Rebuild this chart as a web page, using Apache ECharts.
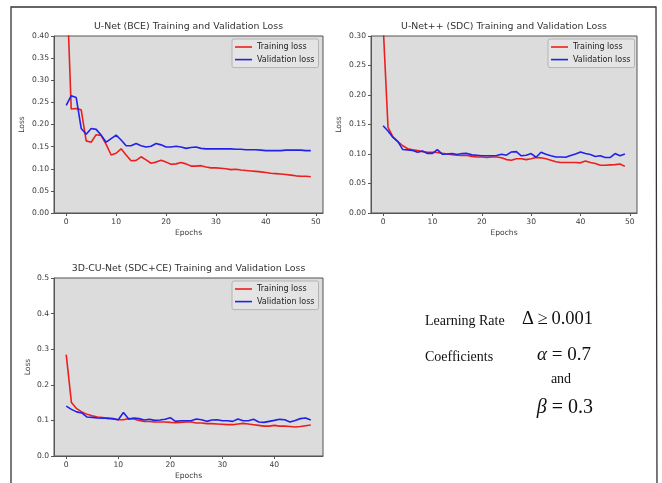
<!DOCTYPE html>
<html>
<head>
<meta charset="utf-8">
<title>Training and Validation Loss</title>
<script src="https://cdn.jsdelivr.net/npm/echarts@6/dist/echarts.min.js"></script>
<style>
  html, body { margin: 0; padding: 0; background: #fff; }
  #chart { width: 662px; height: 483px; }
</style>
</head>
<body>
<div id="chart"></div>
<script>
// U-Net (BCE), epochs 0..49
const unetTrain = [0.55, 0.235, 0.236, 0.233, 0.163, 0.160, 0.177, 0.175, 0.155, 0.131,
  0.135, 0.145, 0.131, 0.118, 0.119, 0.127, 0.120, 0.1125, 0.115, 0.119,
  0.115, 0.110, 0.111, 0.114, 0.111, 0.106, 0.106, 0.107, 0.104, 0.102,
  0.102, 0.101, 0.100, 0.098, 0.099, 0.097, 0.096, 0.095, 0.094, 0.093,
  0.0915, 0.090, 0.089, 0.088, 0.087, 0.0855, 0.084, 0.083, 0.083, 0.082]
const unetVal = [0.243, 0.265, 0.261, 0.191, 0.178, 0.191, 0.189, 0.176, 0.160, 0.168,
  0.176, 0.165, 0.152, 0.152, 0.157, 0.152, 0.149, 0.151, 0.157, 0.154,
  0.149, 0.149, 0.151, 0.149, 0.146, 0.148, 0.149, 0.146, 0.145, 0.145,
  0.145, 0.145, 0.145, 0.145, 0.144, 0.144, 0.143, 0.143, 0.143, 0.142,
  0.141, 0.141, 0.141, 0.141, 0.142, 0.142, 0.142, 0.142, 0.141, 0.141]

// U-Net++ (SDC), epochs 0..49
const ppTrain = [0.32, 0.145, 0.129, 0.121, 0.114, 0.109, 0.107, 0.106, 0.104, 0.103,
  0.103, 0.1025, 0.101, 0.100, 0.099, 0.098, 0.0975, 0.0975, 0.096, 0.095,
  0.095, 0.094, 0.095, 0.095, 0.0935, 0.0905, 0.0895, 0.092, 0.092, 0.0905,
  0.092, 0.094, 0.0935, 0.092, 0.0895, 0.087, 0.0855, 0.0855, 0.0855, 0.0855,
  0.085, 0.088, 0.0855, 0.084, 0.081, 0.081, 0.0815, 0.082, 0.083, 0.079]
const ppVal = [0.148, 0.139, 0.128, 0.121, 0.1075, 0.107, 0.106, 0.103, 0.105, 0.101,
  0.101, 0.1075, 0.0995, 0.100, 0.1007, 0.099, 0.1007, 0.101, 0.0985, 0.098,
  0.097, 0.097, 0.097, 0.0975, 0.0995, 0.098, 0.1035, 0.104, 0.097, 0.098,
  0.1007, 0.0945, 0.103, 0.0995, 0.097, 0.095, 0.095, 0.0945, 0.0975, 0.100,
  0.1035, 0.1007, 0.099, 0.0957, 0.097, 0.094, 0.094, 0.1007, 0.097, 0.100]

// 3D-CU-Net (SDC+CE), epochs 0..47
const cuTrain = [0.285, 0.150, 0.133, 0.124, 0.117, 0.113, 0.1095, 0.108, 0.105, 0.104,
  0.102, 0.102, 0.105, 0.104, 0.100, 0.097, 0.097, 0.0955, 0.0955, 0.0955,
  0.0945, 0.0936, 0.0945, 0.0955, 0.0955, 0.0927, 0.0927, 0.091, 0.091, 0.090,
  0.089, 0.088, 0.088, 0.090, 0.0917, 0.090, 0.088, 0.086, 0.084, 0.084,
  0.086, 0.084, 0.084, 0.083, 0.0815, 0.083, 0.085, 0.087]
const cuVal = [0.140, 0.131, 0.124, 0.121, 0.1095, 0.1086, 0.1067, 0.106, 0.1067, 0.105,
  0.102, 0.122, 0.104, 0.1067, 0.105, 0.101, 0.103, 0.100, 0.101, 0.103,
  0.1077, 0.0973, 0.099, 0.099, 0.099, 0.104, 0.102, 0.0973, 0.101, 0.102,
  0.099, 0.099, 0.0973, 0.104, 0.099, 0.099, 0.103, 0.0955, 0.0945, 0.0973,
  0.100, 0.103, 0.102, 0.0955, 0.100, 0.105, 0.1067, 0.101]

const epochTicksA = [0, 10, 20, 30, 40, 50]
const epochTicksB = [0, 10, 20, 30, 40]
const titles = [
  'U-Net (BCE) Training and Validation Loss',
  'U-Net++ (SDC) Training and Validation Loss',
  '3D-CU-Net (SDC+CE) Training and Validation Loss'
]
const seriesNames = ['Training loss', 'Validation loss']

const RED = '#ec1f1f'
const BLUE = '#2121ea'
const SANS = 'DejaVu Sans'
const SERIF = 'Liberation Serif'

// pair each value with its epoch index
const toPoints = arr => arr.map((v, i) => [i, v])

const panels = [
  { grid: { left: 54, top: 36, width: 269, height: 177 }, xMin: -2.45, xMax: 51.45, xTicks: epochTicksA,
    yMax: 0.4, yStep: 0.05, digits: 2, nameGap: 28, legend: { left: 232, top: 39 },
    train: unetTrain, val: unetVal, title: titles[0] },
  { grid: { left: 371, top: 36, width: 266, height: 177 }, xMin: -2.45, xMax: 51.45, xTicks: epochTicksA,
    yMax: 0.3, yStep: 0.05, digits: 2, nameGap: 28, legend: { left: 548, top: 39 },
    train: ppTrain, val: ppVal, title: titles[1] },
  { grid: { left: 54, top: 278, width: 269, height: 178 }, xMin: -2.35, xMax: 49.35, xTicks: epochTicksB,
    yMax: 0.5, yStep: 0.1, digits: 1, nameGap: 22, legend: { left: 232, top: 281 },
    train: cuTrain, val: cuVal, title: titles[2] }
]

const tickLabel = { fontFamily: SANS, fontSize: 7.6, color: '#3a3a3a' }

const option = {
  animation: false,
  backgroundColor: '#fff',
  grid: panels.map(p => ({
    ...p.grid,
    show: true,
    backgroundColor: '#dcdcdc',
    borderColor: '#555',
    borderWidth: 1
  })),
  xAxis: panels.map((p, i) => ({
    type: 'value',
    gridIndex: i,
    min: p.xMin,
    max: p.xMax,
    name: 'Epochs',
    nameLocation: 'middle',
    nameGap: 16,
    nameTextStyle: { fontFamily: SANS, fontSize: 7.6, color: '#3a3a3a' },
    axisLine: { show: true, onZero: false, lineStyle: { color: '#555', width: 1 } },
    axisTick: { show: true, length: 3, customValues: p.xTicks, lineStyle: { color: '#555' } },
    axisLabel: { ...tickLabel, margin: 5, customValues: p.xTicks },
    splitLine: { show: false }
  })),
  yAxis: panels.map((p, i) => ({
    type: 'value',
    gridIndex: i,
    min: 0,
    max: p.yMax,
    interval: p.yStep,
    name: 'Loss',
    nameLocation: 'middle',
    nameGap: p.nameGap,
    nameTextStyle: { fontFamily: SANS, fontSize: 7.6, color: '#3a3a3a' },
    axisLine: { show: true, onZero: false, lineStyle: { color: '#555', width: 1 } },
    axisTick: { show: true, length: 3, lineStyle: { color: '#555' } },
    axisLabel: { ...tickLabel, margin: 5, formatter: v => v.toFixed(p.digits) },
    splitLine: { show: false }
  })),
  legend: panels.map(p => ({
    left: p.legend.left,
    top: p.legend.top,
    orient: 'vertical',
    data: seriesNames,
    icon: 'rect',
    itemWidth: 17,
    itemHeight: 1.6,
    itemGap: 2.6,
    padding: [3, 4, 3, 3],
    backgroundColor: '#e4e4e4',
    borderColor: '#b4b4b4',
    borderWidth: 1,
    borderRadius: 2,
    selectedMode: false,
    textStyle: { fontFamily: SANS, fontSize: 8, lineHeight: 10, color: '#222' }
  })),
  series: panels.flatMap((p, i) => [
    {
      name: seriesNames[0], type: 'line', xAxisIndex: i, yAxisIndex: i,
      data: toPoints(p.train), showSymbol: false, clip: true,
      color: RED, lineStyle: { color: RED, width: 1.6 }
    },
    {
      name: seriesNames[1], type: 'line', xAxisIndex: i, yAxisIndex: i,
      data: toPoints(p.val), showSymbol: false, clip: true,
      color: BLUE, lineStyle: { color: BLUE, width: 1.6 }
    }
  ]),
  graphic: [
    // outer frame of the figure (open at the bottom)
    { type: 'polyline', silent: true,
      shape: { points: [[11, 490], [11, 7], [656, 7], [657, 490]] },
      style: { stroke: '#333', lineWidth: 1.3, fill: null } },
    ...panels.map(p => ({
      type: 'text', silent: true,
      style: {
        text: p.title, x: p.grid.left + p.grid.width / 2, y: p.grid.top - 9,
        font: '9.4px "' + SANS + '"', fill: '#333', textAlign: 'center', textVerticalAlign: 'middle'
      }
    })),
    { type: 'text', silent: true,
      style: { text: 'Learning Rate', x: 425, y: 321.5, font: '14px "' + SERIF + '"', fill: '#111', textVerticalAlign: 'middle' } },
    { type: 'text', silent: true,
      style: { text: 'Δ\u2009≥\u20090.001', x: 593, y: 319, font: '18.5px "' + SERIF + '"', fill: '#111', textAlign: 'right', textVerticalAlign: 'middle' } },
    { type: 'text', silent: true,
      style: { text: 'Coefficients', x: 425, y: 357, font: '14px "' + SERIF + '"', fill: '#111', textVerticalAlign: 'middle' } },
    { type: 'text', silent: true,
      style: {
        text: '{i|α} = 0.7', x: 591, y: 355, textAlign: 'right', textVerticalAlign: 'middle',
        font: '19px "' + SERIF + '"', fill: '#111',
        rich: { i: { fontFamily: SERIF, fontSize: 19, fontStyle: 'italic', fill: '#111' } }
      } },
    { type: 'text', silent: true,
      style: { text: 'and', x: 561, y: 379, font: '14px "' + SERIF + '"', fill: '#111', textAlign: 'center', textVerticalAlign: 'middle' } },
    { type: 'text', silent: true,
      style: {
        text: '{i|β} = 0.3', x: 593, y: 407.5, textAlign: 'right', textVerticalAlign: 'middle',
        font: '20px "' + SERIF + '"', fill: '#111',
        rich: { i: { fontFamily: SERIF, fontSize: 20, fontStyle: 'italic', fill: '#111' } }
      } }
  ]
}

const myChart = echarts.init(document.getElementById('chart'), null, { renderer: 'canvas' })
myChart.setOption(option)
</script>
</body>
</html>
